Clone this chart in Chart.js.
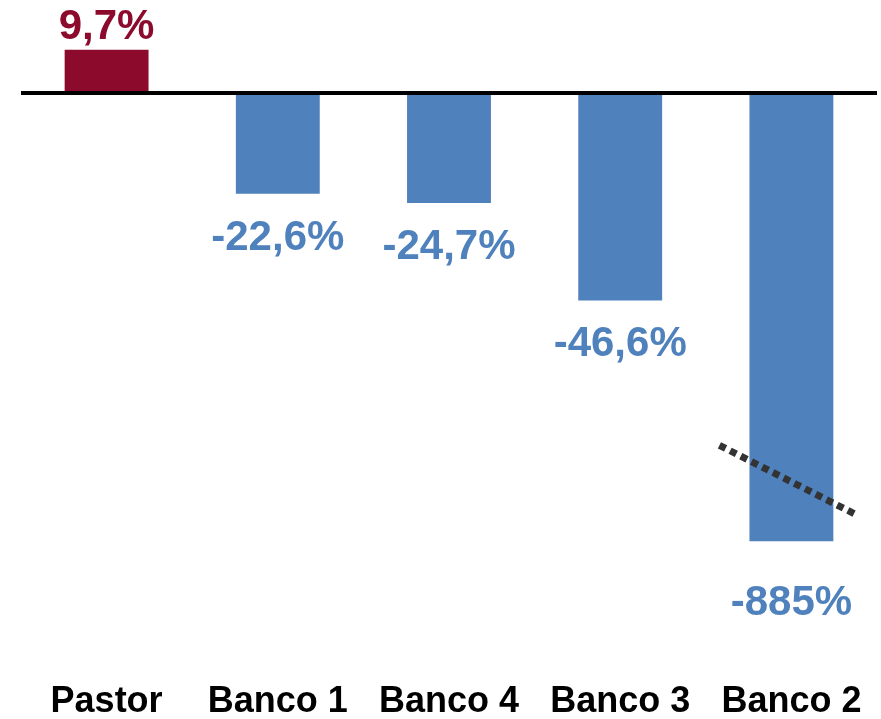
<!DOCTYPE html>
<html>
<head>
<meta charset="utf-8">
<script src="https://cdn.jsdelivr.net/npm/chart.js@4"></script>
<style>
  html, body { margin: 0; padding: 0; background: #fff; }
  #wrap { width: 881px; height: 719px; }
</style>
</head>
<body>
<div id="wrap"><canvas id="chart"></canvas></div>
<script>
// datos
const categories = ["Pastor", "Banco 1", "Banco 4", "Banco 3", "Banco 2"];
const values = [9.7, -22.6, -24.7, -46.6, -885];
const valueLabels = ["9,7%", "-22,6%", "-24,7%", "-46,6%", "-885%"];
const brokenIndex = 4;      // barra con eje cortado
const brokenShownAt = -100.7; // hasta donde se dibuja la barra cortada

const posColor = "#8C0A2B";
const negColor = "#4F81BD";

const shown = values.map((v, i) => (i === brokenIndex ? brokenShownAt : v));

// linea del cero, etiquetas y corte
const extrasPlugin = {
  id: "extras",
  afterDatasetsDraw(chart) {
    const ctx = chart.ctx;
    const y0 = chart.scales.y.getPixelForValue(0);
    const bars = chart.getDatasetMeta(0).data;

    ctx.save();
    ctx.strokeStyle = "#000";
    ctx.lineWidth = 4;
    ctx.beginPath();
    ctx.moveTo(chart.chartArea.left, y0);
    ctx.lineTo(877, y0);
    ctx.stroke();

    ctx.font = "bold 42px 'Liberation Sans', Arial, sans-serif";
    ctx.textAlign = "center";
    ctx.textBaseline = "alphabetic";
    bars.forEach((bar, i) => {
      if (values[i] >= 0) {
        ctx.fillStyle = posColor;
        ctx.fillText(valueLabels[i], bar.x, bar.y - 11);
      } else {
        ctx.fillStyle = negColor;
        const extra = i === brokenIndex ? 18 : 0;
        ctx.fillText(valueLabels[i], bar.x, bar.y + 56 + extra);
      }
    });

    // marca de corte
    const b = bars[brokenIndex];
    ctx.strokeStyle = "#333";
    ctx.lineWidth = 7;
    ctx.setLineDash([7, 5]);
    ctx.beginPath();
    ctx.moveTo(b.x - 72, b.y - 96);
    ctx.lineTo(b.x + 66, b.y - 26);
    ctx.stroke();
    ctx.restore();
  }
};

new Chart(document.getElementById("chart"), {
  type: "bar",
  data: {
    labels: categories,
    datasets: [{
      data: shown,
      backgroundColor: values.map(v => (v >= 0 ? posColor : negColor)),
      borderWidth: 0,
      barPercentage: 0.49,
      categoryPercentage: 1
    }]
  },
  options: {
    responsive: true,
    maintainAspectRatio: false,
    animation: false,
    layout: { padding: { left: 21, right: 4, top: 0, bottom: 0 } },
    plugins: {
      legend: { display: false },
      tooltip: { enabled: false }
    },
    scales: {
      x: {
        grid: { display: false, drawTicks: false },
        border: { display: false },
        ticks: {
          color: "#000",
          font: { family: "'Liberation Sans', Arial, sans-serif", size: 36, weight: "bold", lineHeight: 0.75 },
          padding: 3,
          maxRotation: 0,
          autoSkip: false
        }
      },
      y: {
        display: false,
        min: -133.2,
        max: 20.9
      }
    }
  },
  plugins: [extrasPlugin]
});
</script>
</body>
</html>
